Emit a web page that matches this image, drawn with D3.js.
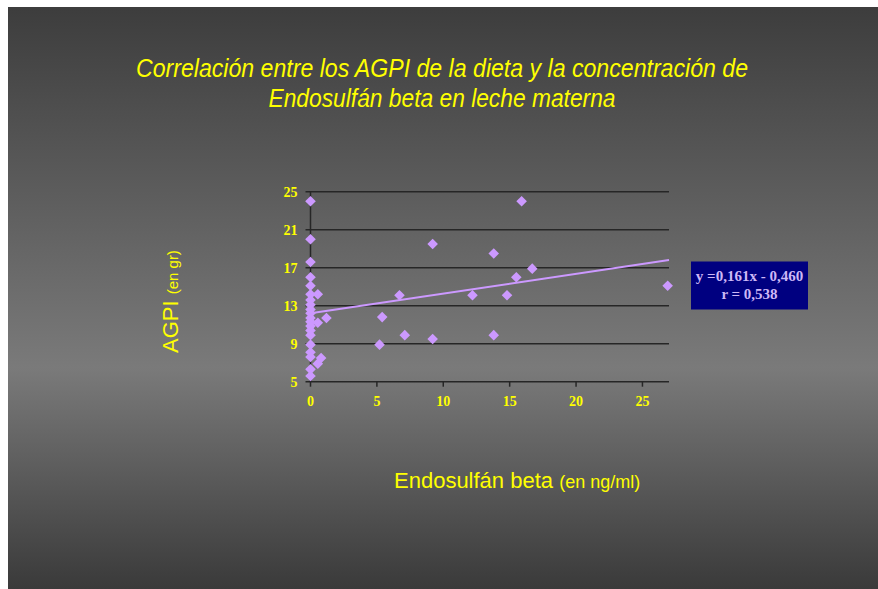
<!DOCTYPE html>
<html lang="es">
<head>
    <meta charset="UTF-8">
    <title>Correlación AGPI - Endosulfán beta</title>
    <script src="https://d3js.org/d3.v7.min.js"></script>
    <style>
        body {
            margin: 0;
            background: #ffffff;
            overflow: hidden;
        }
        .title {
            fill: #ffff00;
            font-family: "Liberation Sans Narrow", "Liberation Sans", Arial, sans-serif;
            font-style: italic;
            font-size: 26px;
        }
        .axis-title {
            fill: #ffff00;
            font-family: "Liberation Sans", Arial, sans-serif;
        }
        .tick-label {
            fill: #ffff00;
            font-family: "Liberation Serif", "Times New Roman", serif;
            font-weight: bold;
            font-size: 14px;
        }
        .eq {
            fill: #cdb8f6;
            font-family: "Liberation Serif", "Times New Roman", serif;
            font-weight: bold;
            font-size: 15px;
        }
    </style>
</head>
<body>
    <div id="chart"></div>
    <script>
        // points (x = Endosulfán beta ng/ml, y = AGPI gr)
        const xValues = [
            0, 0, 0, 0, 0, 0, 0, 0, 0, 0, 0, 0, 0, 0, 0, 0, 0, 0, 0, 0,
            0.55, 1.2, 0.55, 0.8, 0.55,
            5.2, 5.4, 6.7, 7.1, 9.2, 9.2, 12.2, 13.8, 13.8, 14.8, 15.5, 15.9, 16.7, 26.9
        ];
        const yValues = [
            24, 20, 17.6, 16.0, 15.1, 14.2, 13.6, 13.1, 12.6, 12.2, 11.7, 11.3, 10.85, 10.4, 9.9, 8.9, 8.1, 7.6, 6.3, 5.6,
            14.2, 11.7, 11.2, 7.5, 6.9,
            8.9, 11.8, 14.1, 9.9, 9.5, 19.5, 14.1, 18.5, 9.9, 14.1, 16.0, 24.0, 16.9, 15.1
        ];
        const xTicks = [0, 5, 10, 15, 20, 25];
        const yTicks = [5, 9, 13, 17, 21, 25];
        const xDomain = [0, 27];
        const yDomain = [5, 25];
        // trend line end points
        const trendX = [0, 27];
        const trendY = [12.2, 17.8];
        const equationLines = ["y =0,161x - 0,460", "r = 0,538"];
        const titleLines = [
            "Correlación entre los AGPI de la dieta y la concentración de",
            "Endosulfán beta en leche materna"
        ];

        const width = 878;
        const height = 589;
        const svg = d3.select("#chart").append("svg")
            .attr("width", width).attr("height", height);

        // slide background
        const defs = svg.append("defs");
        const bg = defs.append("linearGradient")
            .attr("id", "bg").attr("x1", 0).attr("y1", 0).attr("x2", 0).attr("y2", 1);
        bg.append("stop").attr("offset", "0%").attr("stop-color", "#3d3d3d");
        bg.append("stop").attr("offset", "62%").attr("stop-color", "#7a7a7a");
        bg.append("stop").attr("offset", "100%").attr("stop-color", "#3a3a3a");

        svg.append("rect")
            .attr("x", 8).attr("y", 7)
            .attr("width", width - 8).attr("height", height - 7)
            .attr("fill", "url(#bg)");

        // title
        svg.append("g").selectAll("text")
            .data(titleLines)
            .enter().append("text")
            .attr("class", "title")
            .attr("x", 442)
            .attr("y", (d, i) => 77 + i * 30)
            .attr("text-anchor", "middle")
            .attr("textLength", (d, i) => i === 0 ? 612 : 347)
            .attr("lengthAdjust", "spacingAndGlyphs")
            .text(d => d);

        const x = d3.scaleLinear().domain(xDomain).range([310.5, 669]);
        const y = d3.scaleLinear().domain(yDomain).range([381.7, 191.7]);

        // horizontal gridlines (extend left as ticks)
        svg.append("g").selectAll("line")
            .data(yTicks)
            .enter().append("line")
            .attr("x1", x(0) - 5).attr("x2", x(xDomain[1]))
            .attr("y1", d => y(d)).attr("y2", d => y(d))
            .attr("stroke", "#262626")
            .attr("stroke-width", 1.5);

        // y axis line
        svg.append("line")
            .attr("x1", x(0)).attr("x2", x(0))
            .attr("y1", y(yDomain[0])).attr("y2", y(yDomain[1]))
            .attr("stroke", "#262626").attr("stroke-width", 1.5);

        // x ticks
        svg.append("g").selectAll("line")
            .data(xTicks)
            .enter().append("line")
            .attr("x1", d => x(d)).attr("x2", d => x(d))
            .attr("y1", y(yDomain[0])).attr("y2", y(yDomain[0]) + 5)
            .attr("stroke", "#262626").attr("stroke-width", 1.5);

        svg.append("g").selectAll("text")
            .data(xTicks)
            .enter().append("text")
            .attr("class", "tick-label")
            .attr("x", d => x(d))
            .attr("y", 406)
            .attr("text-anchor", "middle")
            .text(d => d);

        svg.append("g").selectAll("text")
            .data(yTicks)
            .enter().append("text")
            .attr("class", "tick-label")
            .attr("x", 297.5)
            .attr("y", d => y(d))
            .attr("dy", "0.35em")
            .attr("text-anchor", "end")
            .text(d => d);

        // trend line
        svg.append("line")
            .attr("x1", x(trendX[0])).attr("y1", y(trendY[0]))
            .attr("x2", x(trendX[1])).attr("y2", y(trendY[1]))
            .attr("stroke", "#cc99ff")
            .attr("stroke-width", 2);

        // diamonds
        const diamond = d3.symbol().type(d3.symbolSquare).size(56);
        svg.append("g").selectAll("path")
            .data(xValues.map((v, i) => [v, yValues[i]]))
            .enter().append("path")
            .attr("d", diamond)
            .attr("transform", d => `translate(${x(d[0])},${y(d[1])}) rotate(45)`)
            .attr("fill", "#cc99ff");

        // equation box
        svg.append("rect")
            .attr("x", 691).attr("y", 261.5)
            .attr("width", 117).attr("height", 48)
            .attr("fill", "#000080");
        svg.append("g").selectAll("text")
            .data(equationLines)
            .enter().append("text")
            .attr("class", "eq")
            .attr("x", 749.5)
            .attr("y", (d, i) => 281 + i * 18)
            .attr("text-anchor", "middle")
            .text(d => d);

        // axis titles
        const xt = svg.append("text")
            .attr("class", "axis-title")
            .attr("x", 394).attr("y", 488);
        xt.append("tspan").attr("font-size", "22px").text("Endosulfán beta ");
        xt.append("tspan").attr("font-size", "18px").text("(en ng/ml)");

        const yt = svg.append("text")
            .attr("class", "axis-title")
            .attr("transform", "translate(178,353) rotate(-90)");
        yt.append("tspan").attr("font-size", "22px").text("AGPI ");
        yt.append("tspan").attr("font-size", "15px").text("(en gr)");
    </script>
</body>
</html>
